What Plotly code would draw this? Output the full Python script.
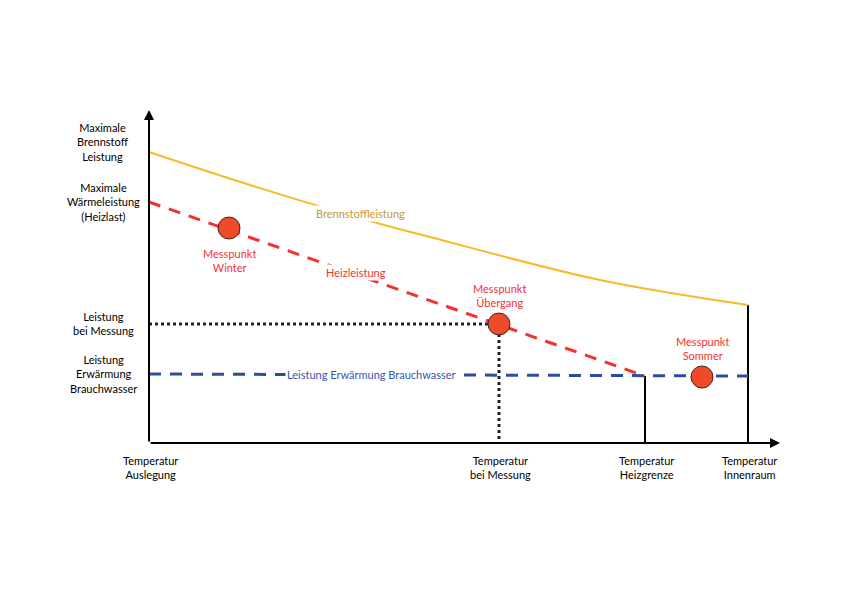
import plotly.graph_objects as go

# Schematic coordinates (abstract units: x = temperature axis, y = power axis)
x_ticks = [0, 350, 496, 599]
x_tick_labels = ["Temperatur<br>Auslegung", "Temperatur<br>bei Messung",
                 "Temperatur<br>Heizgrenze", "Temperatur<br>Innenraum"]
y_ticks = [301, 241, 120, 69]
y_tick_labels = ["Maximale<br>Brennstoff<br>Leistung", "Maximale<br>Wärmeleistung<br>(Heizlast)",
                 "Leistung<br>bei Messung", "Leistung<br>Erwärmung<br>Brauchwasser"]

brenn_x = [0, 101, 228, 281, 451, 599]
brenn_y = [291, 258, 220, 206, 163, 138]

heiz_x = [0, 496]
heiz_y = [241, 67]

wasser_x = [0, 599]
wasser_y = [69, 67]

mess_x = [80, 350, 553]
mess_y = [215, 119, 66]
mess_labels = ["Messpunkt<br>Winter", "Messpunkt<br>Übergang", "Messpunkt<br>Sommer"]
mess_label_y = [183, 148, 95]

FONT = "Lato"
RED = "#F5302E"
fig = go.Figure()

# black verticals
fig.add_trace(go.Scatter(x=[496, 496], y=[0, 67], mode="lines",
                         line=dict(color="black", width=2), showlegend=False))
fig.add_trace(go.Scatter(x=[599, 599], y=[0, 138], mode="lines",
                         line=dict(color="black", width=2), showlegend=False))
# dotted measurement lines
fig.add_trace(go.Scatter(x=[0, 350, 350], y=[119, 119, 0], mode="lines",
                         line=dict(color="#222222", width=3, dash="dot"), showlegend=False))
# Brennstoff curve
fig.add_trace(go.Scatter(x=brenn_x, y=brenn_y, mode="lines", line_shape="spline",
                         line=dict(color="#F8BA2A", width=2), showlegend=False))
# Brauchwasser
fig.add_trace(go.Scatter(x=wasser_x, y=wasser_y, mode="lines",
                         line=dict(color="#2E4C9E", width=3, dash="12px,9px"), showlegend=False))
# Heizleistung
fig.add_trace(go.Scatter(x=heiz_x, y=heiz_y, mode="lines",
                         line=dict(color=RED, width=3, dash="12px,9px"), showlegend=False))
# Messpunkte
fig.add_trace(go.Scatter(x=mess_x, y=mess_y, mode="markers",
                         marker=dict(size=22, color="#F04A2A", line=dict(color="#3a2a2a", width=1)),
                         showlegend=False))

ann = []
# axes arrows
ann.append(dict(x=0, y=333, ax=0, ay=0, xref="x", yref="y", axref="x", ayref="y",
                showarrow=True, arrowhead=2, arrowsize=1, arrowwidth=2, arrowcolor="black", text=""))
ann.append(dict(x=631, y=0, ax=0, ay=0, xref="x", yref="y", axref="x", ayref="y",
                showarrow=True, arrowhead=2, arrowsize=1, arrowwidth=2, arrowcolor="black", text=""))
for xv, t in zip(x_ticks, x_tick_labels):
    ann.append(dict(x=xv + 1, y=-24, xref="x", yref="y", text=t, showarrow=False,
                    font=dict(family=FONT, size=11, color="black"), yanchor="middle"))
for yv, t in zip(y_ticks, y_tick_labels):
    ann.append(dict(x=-46, y=yv, xref="x", yref="y", text=t, showarrow=False,
                    font=dict(family=FONT, size=11, color="black"), yanchor="middle"))
for xv, yv, t in zip(mess_x, mess_label_y, mess_labels):
    ann.append(dict(x=xv, y=yv, xref="x", yref="y", text=t, showarrow=False,
                    font=dict(family=FONT, size=11, color=RED), yanchor="middle"))
ann.append(dict(x=211, y=230, xref="x", yref="y", text="Brennstoffleistung", showarrow=False,
                font=dict(family=FONT, size=11, color="#C39A2E"), bgcolor="white"))
ann.append(dict(x=207, y=171, xref="x", yref="y", text="Heizleistung", showarrow=False,
                font=dict(family=FONT, size=11, color=RED), bgcolor="white"))
ann.append(dict(x=222, y=69, xref="x", yref="y", text="Leistung Erwärmung Brauchwasser", showarrow=False,
                font=dict(family=FONT, size=11, color="#3355B5"), bgcolor="white"))

fig.update_layout(
    width=842, height=595, margin=dict(l=0, r=0, t=0, b=0),
    paper_bgcolor="white", plot_bgcolor="white",
    xaxis=dict(range=[-141, 701], visible=False, fixedrange=True),
    yaxis=dict(range=[-160, 435], visible=False, fixedrange=True),
    annotations=ann,
)
fig.write_html("out.html")
